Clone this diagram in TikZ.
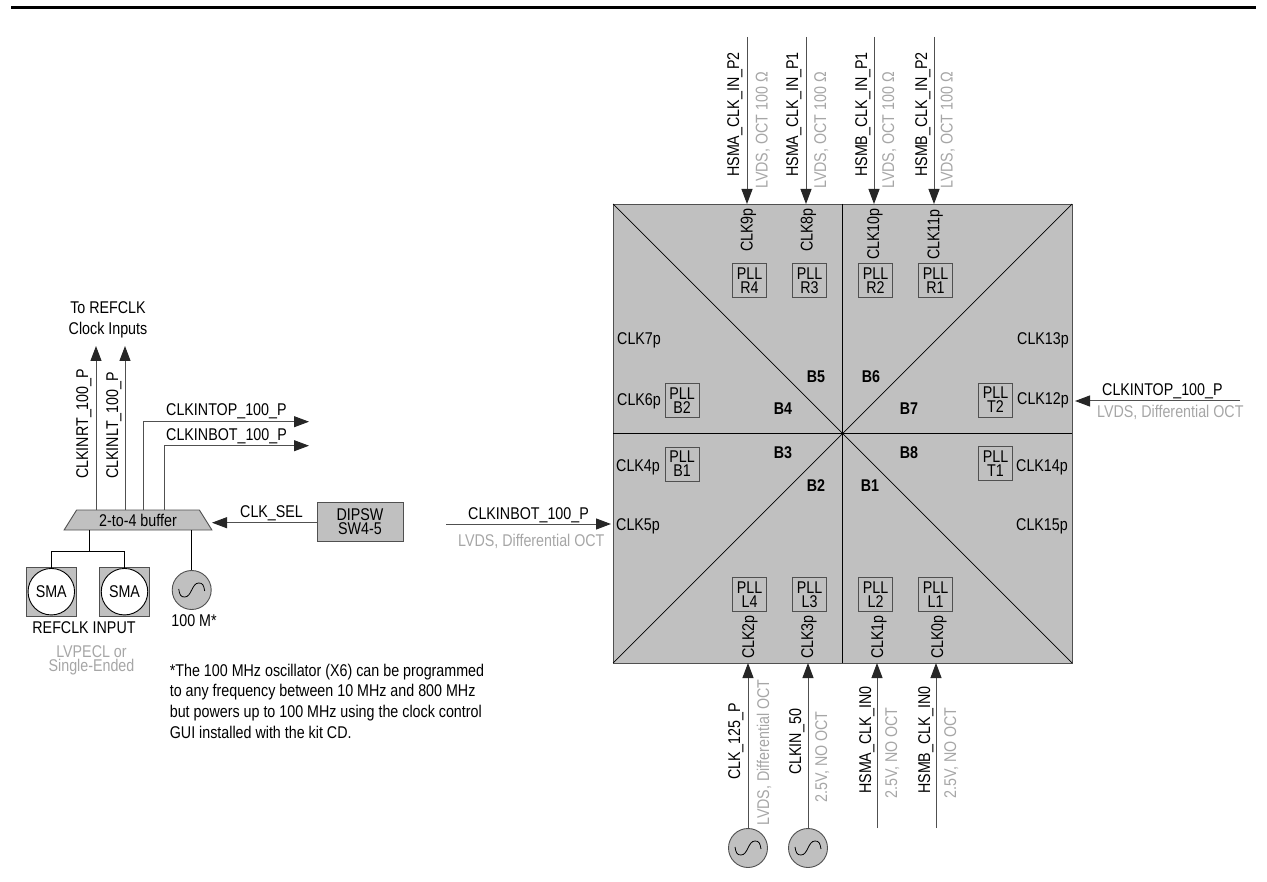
\documentclass[tikz,border=0pt]{standalone}
\usepackage{fontspec}
\setmainfont{Liberation Sans}[FakeStretch=0.84]
\usetikzlibrary{arrows.meta,shapes.geometric}
\definecolor{chipgray}{HTML}{C0C0C0}
\definecolor{wiregray}{HTML}{505050}
\definecolor{notegray}{HTML}{A6A6A6}
\newcommand{\labfont}{\fontsize{17}{14}\selectfont}
\begin{document}
\begin{tikzpicture}
[x=1pt,y=-1pt]
\tikzset{lab/.style={anchor=base west,inner sep=0pt,font=\labfont},
	vlab/.style={lab,rotate=90},
	soft/.style={text=notegray},
	softv/.style={vlab,text=notegray},
	ctr/.style={anchor=center,inner sep=0pt,align=center,font=\labfont},
	bank/.style={ctr,font=\labfont\bfseries},
	pllbox/.style={ctr,draw=wiregray,line width=.9pt,minimum size=34pt},
	osc/.style={circle,draw=wiregray,fill=chipgray,line width=.9pt,minimum size=39pt,inner sep=0pt},
	wire/.style={draw=wiregray,line width=1pt},
	arr/.style={wire,-{Triangle[length=15pt,width=11pt,color=black!85]}},
	smabox/.style={draw=wiregray,fill=chipgray,line width=.9pt,minimum size=49.5pt,inner sep=0pt},
	smacirc/.style={ctr,circle,draw=black,fill=white,line width=.9pt,minimum size=46.5pt}}
\useasboundingbox (0,0) rectangle (1267,882);

\coordinate (r1) at (11,7.5);
\coordinate (r2) at (1256,7.5);
\draw [line width=2.2pt] (r1) -- (r2);

% device
\node [fill=chipgray,draw=wiregray,line width=.9pt,minimum size=459pt,inner sep=0pt,outer sep=0pt] (chip) at (842.5,433.5) {};
\foreach \from/\to in {chip.north west/chip.south east,chip.south west/chip.north east,chip.north/chip.south,chip.west/chip.east}
	\draw [line width=.7pt] (\from) -- (\to);

\node [pllbox] (r4) at (749.5,280.5) {PLL\\R4};
\node [pllbox] (r3) at (809.5,280.5) {PLL\\R3};
\node [pllbox] (r2b) at (875.5,280.5) {PLL\\R2};
\node [pllbox] (r1b) at (935.5,280.5) {PLL\\R1};
\node [pllbox] (l4) at (749.5,594.5) {PLL\\L4};
\node [pllbox] (l3) at (809.5,594.5) {PLL\\L3};
\node [pllbox] (l2) at (875.5,594.5) {PLL\\L2};
\node [pllbox] (l1) at (935.5,594.5) {PLL\\L1};
\node [pllbox] (b2) at (682,400.5) {PLL\\B2};
\node [pllbox] (b1) at (682,464) {PLL\\B1};
\node [pllbox] (t2) at (995.5,400) {PLL\\T2};
\node [pllbox] (t1) at (995.5,463.5) {PLL\\T1};

\node [bank] (s5) at (816,377) {B5};
\node [bank] (s6) at (871,377) {B6};
\node [bank] (s4) at (783,409) {B4};
\node [bank] (s7) at (909,409) {B7};
\node [bank] (s3) at (783,453) {B3};
\node [bank] (s8) at (909,453) {B8};
\node [bank] (s2) at (816,486) {B2};
\node [bank] (s1) at (870,486) {B1};

\node [vlab] (c9) at (752.7,252) {CLK9p};
\node [vlab] (c8) at (812.7,252) {CLK8p};
\node [vlab] (c10) at (879,260) {CLK10p};
\node [vlab] (c11) at (939.3,260) {CLK11p};
\node [vlab] (c2) at (754,659) {CLK2p};
\node [vlab] (c3) at (813,659) {CLK3p};
\node [vlab] (c1) at (883,659) {CLK1p};
\node [vlab] (c0) at (943,659) {CLK0p};
\node [lab] (c7) at (617,345) {CLK7p};
\node [lab] (c6) at (617,405.5) {CLK6p};
\node [lab] (c4) at (616,471.5) {CLK4p};
\node [lab] (c5) at (616,530.5) {CLK5p};
\node [lab] (c13) at (1017,345) {CLK13p};
\node [lab] (c12) at (1017,404.5) {CLK12p};
\node [lab] (c14) at (1016,471.5) {CLK14p};
\node [lab] (c15) at (1016,530.5) {CLK15p};

% inputs on the device
\node [vlab] (h1) at (739,177) {HSMA\_CLK\_IN\_P2};
\node [vlab] (h2) at (798,177) {HSMA\_CLK\_IN\_P1};
\node [vlab] (h3) at (867,177) {HSMB\_CLK\_IN\_P1};
\node [vlab] (h4) at (927,177) {HSMB\_CLK\_IN\_P2};
\node [softv] (v1) at (767.7,189) {LVDS, OCT 100 Ω};
\node [softv] (v2) at (826,189) {LVDS, OCT 100 Ω};
\node [softv] (v3) at (894,189) {LVDS, OCT 100 Ω};
\node [softv] (v4) at (952.7,189) {LVDS, OCT 100 Ω};
\node [vlab] (h5) at (740,780) {CLK\_125\_P};
\node [vlab] (h6) at (801,775) {CLKIN\_50};
\node [vlab] (h7) at (871,794) {HSMA\_CLK\_IN0};
\node [vlab] (h8) at (930,794) {HSMB\_CLK\_IN0};
\node [softv] (v5) at (769,826) {LVDS, Differential OCT};
\node [softv] (v6) at (827,803) {2.5V, NO OCT};
\node [softv] (v7) at (897,799) {2.5V, NO OCT};
\node [softv] (v8) at (956,799) {2.5V, NO OCT};
\node [lab] (h9) at (1102,396) {CLKINTOP\_100\_P};
\node [lab,soft] (v9) at (1097,418) {LVDS, Differential OCT};
\node [lab] (h10) at (468,519) {CLKINBOT\_100\_P};
\node [lab,soft] (v10) at (458,546) {LVDS, Differential OCT};

\node [osc] (o1) at (748,848) {};
\node [osc] (o2) at (808,848) {};
\coordinate (p1) at (747,37);
\coordinate (q1) at (747,204);
\coordinate (p2) at (806,37);
\coordinate (q2) at (806,204);
\coordinate (p3) at (874,37);
\coordinate (q3) at (874,204);
\coordinate (p4) at (934,37);
\coordinate (q4) at (934,204);
\coordinate (q5) at (748,663);
\coordinate (q6) at (808,663);
\coordinate (p7) at (877,828);
\coordinate (q7) at (877,663);
\coordinate (p8) at (936,828);
\coordinate (q8) at (936,663);
\coordinate (p9) at (1240,401);
\coordinate (q9) at (1075,401);
\coordinate (p10) at (446,524);
\coordinate (q10) at (611,524);
\foreach \from/\to in {p1/q1,p2/q2,p3/q3,p4/q4,o1/q5,o2/q6,p7/q7,p8/q8,p9/q9,p10/q10}
	\draw [arr] (\from) -- (\to);

% clock buffer
\node [ctr,trapezium,draw=wiregray,fill=chipgray,line width=.9pt,trapezium left angle=57.6,trapezium right angle=57.6,trapezium stretches=true,minimum width=148pt,minimum height=20pt,outer sep=0pt] (buf) at (138,520) {2-to-4 buffer};
\node [ctr,draw=wiregray,fill=chipgray,line width=.9pt,minimum width=86pt,minimum height=39pt] (sw) at (360,521.5) {DIPSW\\SW4-5};
\node [smabox] (b1a) at (51.3,591.7) {};
\node [smabox] (b2a) at (124.5,591.7) {};
\node [smacirc] (sma1) at (51.3,591.7) {SMA};
\node [smacirc] (sma2) at (124.5,591.7) {SMA};
\node [osc] (o3) at (191.7,590) {};

\foreach \c in {o1,o2,o3}
	\draw [line width=.8pt] (\c.center) ++(-13,-1) .. controls +(1,6) and +(-4,0) .. ++(6,8) .. controls +(7,0) and +(-7,0) .. ++(14,-14) .. controls +(4,0) and +(-1,-6) .. ++(6,8);

\coordinate (u1) at (96,510);
\coordinate (u2) at (125,510);
\coordinate (u3) at (143.7,510);
\coordinate (u4) at (164.7,510);
\coordinate (w1) at (96,346);
\coordinate (w2) at (125,346);
\coordinate (w3) at (309,421.7);
\coordinate (w4) at (309,445.7);
\coordinate (d1) at (89,530);
\coordinate (d2) at (89,551);
\coordinate (d3) at (191.7,530);
\coordinate (s0) at (317,522.7);
\coordinate (s9) at (212,522.7);
\foreach \from/\to in {u1/w1,u2/w2,s0/s9}
	\draw [arr] (\from) -- (\to);
\foreach \from/\to in {u3/w3,u4/w4}
	\draw [arr] (\from) |- (\to);
\foreach \from/\to in {d1/d2,d3/o3}
	\draw [line width=1pt] (\from) -- (\to);
\foreach \to in {sma1,sma2}
	\draw [line width=1pt] (d2) -| (\to);

\node [vlab] (n1) at (88,479) {CLKINRT\_100\_P};
\node [vlab] (n2) at (118,479) {CLKINLT\_100\_P};
\node [lab] (n3) at (166,416) {CLKINTOP\_100\_P};
\node [lab] (n4) at (166,440.7) {CLKINBOT\_100\_P};
\node [lab] (n5) at (240,517) {CLK\_SEL};
\node [ctr,font=\fontsize{17}{21}\selectfont] (n6) at (108,319.5) {To REFCLK\\Clock Inputs};
\node [ctr] (n7) at (194,621) {100 M*};
\node [ctr] (n8) at (84,628) {REFCLK INPUT};
\node [ctr,text=notegray] (n9) at (91.5,660) {LVPECL or\\Single-Ended};
\node [ctr,align=left,font=\fontsize{17}{20.7}\selectfont] (n10) at (327,701) {*The 100 MHz oscillator (X6) can be programmed\\to any frequency between 10 MHz and 800 MHz\\but powers up to 100 MHz using the clock control\\GUI installed with the kit CD.};

\end{tikzpicture}
\end{document}
